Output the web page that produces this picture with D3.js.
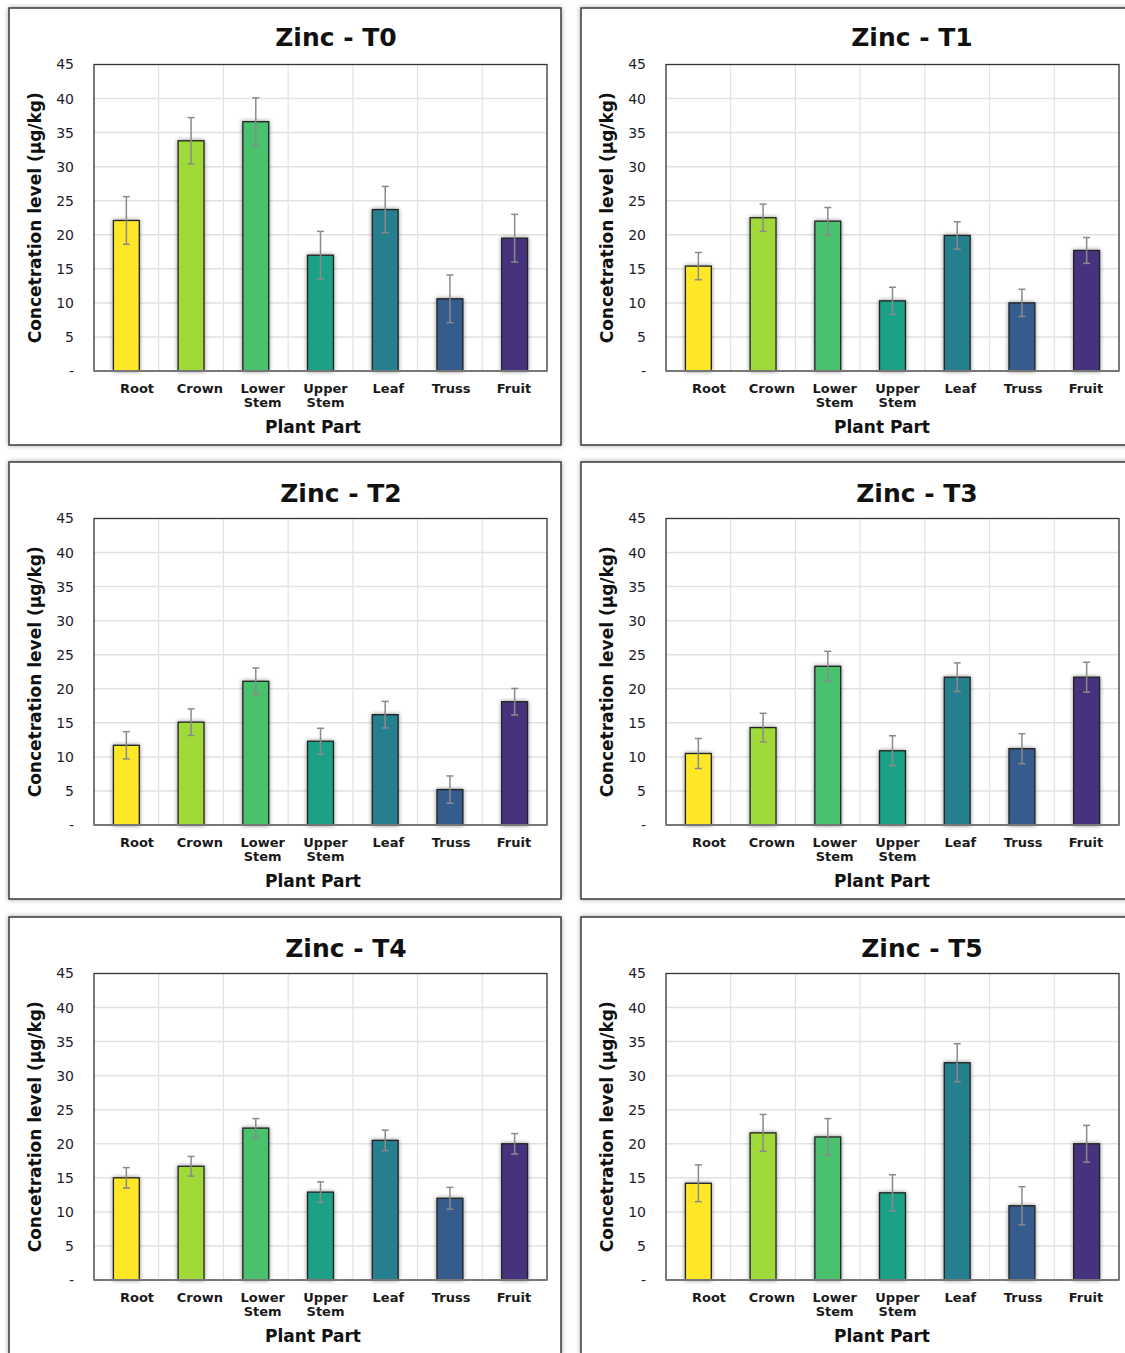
<!DOCTYPE html>
<html>
<head>
<meta charset="utf-8">
<script src="https://cdn.jsdelivr.net/npm/d3@7"></script>
<style>
  html, body { margin: 0; padding: 0; background: #ffffff; }
  svg { display: block; font-family: "DejaVu Sans", sans-serif; }
</style>
</head>
<body>
<svg id="chart" width="1125" height="1353"></svg>
<script>
// ---------- DATA ----------
const categories = ["Root", "Crown", "Lower Stem", "Upper Stem", "Leaf", "Truss", "Fruit"];
const treatments = ["T0", "T1", "T2", "T3", "T4", "T5"];
const colors = ["#fde725", "#a0da39", "#4ac16d", "#1fa187", "#277f8e", "#365c8d", "#46327e"];
const yTicks = [0, 5, 10, 15, 20, 25, 30, 35, 40, 45];

const valuesT0 = [22.1, 33.8, 36.6, 17.0, 23.7, 10.6, 19.5];
const errorsT0 = [3.5, 3.4, 3.5, 3.5, 3.4, 3.5, 3.5];
const valuesT1 = [15.4, 22.5, 22.0, 10.3, 19.9, 10.0, 17.7];
const errorsT1 = [2.0, 2.0, 2.0, 2.0, 2.0, 2.0, 1.9];
const valuesT2 = [11.7, 15.1, 21.1, 12.3, 16.2, 5.2, 18.1];
const errorsT2 = [2.0, 1.95, 1.95, 1.9, 1.95, 2.0, 1.95];
const valuesT3 = [10.5, 14.3, 23.3, 10.9, 21.7, 11.2, 21.7];
const errorsT3 = [2.2, 2.1, 2.2, 2.2, 2.1, 2.2, 2.2];
const valuesT4 = [15.0, 16.7, 22.3, 12.9, 20.5, 12.0, 20.0];
const errorsT4 = [1.5, 1.45, 1.4, 1.5, 1.5, 1.6, 1.5];
const valuesT5 = [14.2, 21.6, 21.0, 12.8, 31.9, 10.9, 20.0];
const errorsT5 = [2.7, 2.7, 2.7, 2.65, 2.8, 2.8, 2.7];

const allValues = [valuesT0, valuesT1, valuesT2, valuesT3, valuesT4, valuesT5];
const allErrors = [errorsT0, errorsT1, errorsT2, errorsT3, errorsT4, errorsT5];

// ---------- LAYOUT ----------
const svg = d3.select("#chart");
const defs = svg.append("defs");
const pf = defs.append("filter").attr("id", "panelShadow")
  .attr("x", "-5%").attr("y", "-5%").attr("width", "110%").attr("height", "110%");
pf.append("feDropShadow").attr("dx", 0).attr("dy", 0).attr("stdDeviation", 2.5)
  .attr("flood-color", "#000").attr("flood-opacity", 0.35);
const bf = defs.append("filter").attr("id", "barShadow")
  .attr("x", "-40%").attr("y", "-10%").attr("width", "180%").attr("height", "120%");
bf.append("feDropShadow").attr("dx", 0).attr("dy", 0).attr("stdDeviation", 2)
  .attr("flood-color", "#000").attr("flood-opacity", 0.45);

const panelW = 552, panelH = 437;
const colX = [9, 581];
const rowY = [8, 462, 917];
const plotOffX = 85, plotOffY = 56.5, plotW = 453, plotH = 306.5;

treatments.forEach((t, idx) => {
  const col = idx % 2, row = Math.floor(idx / 2);
  const px = colX[col], py = rowY[row];
  const g = svg.append("g").attr("transform", `translate(${px},${py})`);

  g.append("rect").attr("x", 0).attr("y", 0)
    .attr("width", col === 1 ? panelW + 20 : panelW).attr("height", panelH)
    .attr("fill", "#fff").attr("stroke", "#3a3a3a").attr("stroke-width", 1.5)
    .attr("filter", "url(#panelShadow)");

  // title
  g.append("text")
    .attr("x", (col === 0 ? 327 : 331) + row * 5)
    .attr("y", row === 0 ? 38 : 40)
    .attr("text-anchor", "middle")
    .attr("font-size", 25).attr("font-weight", "bold").attr("fill", "#111")
    .text(`Zinc - ${t}`);

  const plot = g.append("g").attr("transform", `translate(${plotOffX},${plotOffY})`);

  const x = d3.scaleBand().domain(categories).range([0, plotW])
    .paddingInner(0.6).paddingOuter(0.3);
  const y = d3.scaleLinear().domain([0, 45]).range([plotH, 0]);
  const xLab = d3.scalePoint().domain(categories).range([42.5, 419.5]);

  // grid
  plot.append("g").selectAll("line.h").data(yTicks.filter(d => d > 0 && d < 45)).join("line")
    .attr("x1", 0).attr("x2", plotW).attr("y1", d => y(d)).attr("y2", d => y(d))
    .attr("stroke", "#e2e2e2").attr("stroke-width", 1.5);
  plot.append("g").selectAll("line.v").data(categories.slice(1)).join("line")
    .attr("x1", d => x(d) - x.step() * 0.3).attr("x2", d => x(d) - x.step() * 0.3)
    .attr("y1", 0).attr("y2", plotH)
    .attr("stroke", "#e2e2e2").attr("stroke-width", 1.2);

  // frame
  plot.append("rect").attr("x", 0).attr("y", 0).attr("width", plotW).attr("height", plotH)
    .attr("fill", "none").attr("stroke", "#333").attr("stroke-width", 1.3);

  const vals = allValues[idx], errs = allErrors[idx];
  const data = categories.map((c, i) => ({ c, v: vals[i], e: errs[i], col: colors[i] }));

  // bars
  plot.append("g").selectAll("rect").data(data).join("rect")
    .attr("x", d => x(d.c)).attr("width", x.bandwidth())
    .attr("y", d => y(d.v)).attr("height", d => y(0) - y(d.v))
    .attr("fill", d => d.col).attr("stroke", "#222").attr("stroke-width", 1.3)
    .attr("filter", "url(#barShadow)");

  // error bars
  const eg = plot.append("g").attr("stroke", "#8a8a8a").attr("stroke-width", 1.5);
  data.forEach(d => {
    const cx = x(d.c) + x.bandwidth() / 2;
    eg.append("line").attr("x1", cx).attr("x2", cx)
      .attr("y1", y(d.v + d.e)).attr("y2", y(d.v - d.e));
    eg.append("line").attr("x1", cx - 3.5).attr("x2", cx + 3.5)
      .attr("y1", y(d.v + d.e)).attr("y2", y(d.v + d.e));
    eg.append("line").attr("x1", cx - 3.5).attr("x2", cx + 3.5)
      .attr("y1", y(d.v - d.e)).attr("y2", y(d.v - d.e));
  });

  // bottom axis line
  plot.append("line").attr("x1", 0).attr("x2", plotW).attr("y1", plotH).attr("y2", plotH)
    .attr("stroke", "#777").attr("stroke-width", 2);

  // y axis
  const ya = plot.append("g").call(
    d3.axisLeft(y).tickValues(yTicks).tickSize(0).tickPadding(20)
      .tickFormat(d => d === 0 ? "-" : d)
  );
  ya.select(".domain").remove();
  ya.selectAll("text").attr("font-size", 14).attr("fill", "#1c1c2c")
    .attr("font-family", "DejaVu Sans, sans-serif");

  // x axis labels
  const xa = plot.append("g").attr("transform", `translate(0,${plotH})`).call(
    d3.axisBottom(xLab).tickSize(0).tickPadding(13)
  );
  xa.select(".domain").remove();
  xa.selectAll("text").attr("font-size", 13).attr("font-weight", "bold").attr("fill", "#1a1a1a")
    .attr("font-family", "DejaVu Sans, sans-serif")
    .each(function (d) {
      const parts = d.split(" ");
      const el = d3.select(this);
      if (parts.length > 1) {
        el.text(null);
        parts.forEach((p, k) => {
          el.append("tspan").attr("x", 0).attr("dy", k === 0 ? "0.71em" : "1.05em").text(p);
        });
        el.attr("dy", null);
      }
    });

  // axis titles
  g.append("text")
    .attr("transform", `translate(${plotOffX - 58},${plotOffY + plotH / 2}) rotate(-90)`)
    .attr("text-anchor", "middle").attr("dominant-baseline", "middle")
    .attr("font-size", 17).attr("font-weight", "bold").attr("fill", "#111")
    .text("Concetration level (µg/kg)");
  g.append("text")
    .attr("x", col === 0 ? 304 : 301).attr("y", 425)
    .attr("text-anchor", "middle")
    .attr("font-size", 17).attr("font-weight", "bold").attr("fill", "#111")
    .text("Plant Part");
});
</script>
</body>
</html>
